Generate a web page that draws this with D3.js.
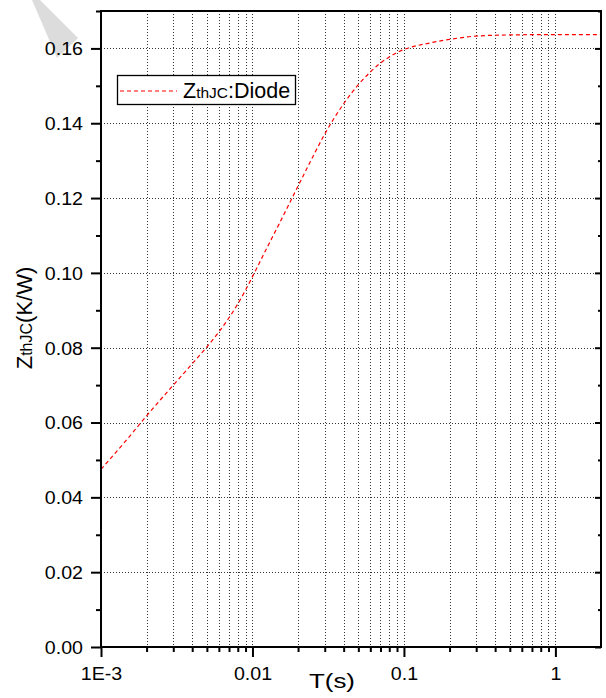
<!DOCTYPE html>
<html>
<head>
<meta charset="utf-8">
<script src="https://cdn.jsdelivr.net/npm/d3@7"></script>
<style>
  body { margin: 0; background: #fff; }
  svg { display: block; font-family: "Liberation Sans", Arial, sans-serif; }
</style>
</head>
<body>
<div id="chart"></div>
<script>
// Thermal impedance curve
const timeValues = [0.001, 0.0015, 0.002, 0.003, 0.004, 0.005, 0.006, 0.007, 0.008, 0.009,
                    0.01, 0.0125, 0.015, 0.02, 0.025, 0.03, 0.04, 0.05, 0.06, 0.07, 0.08, 0.09,
                    0.1, 0.15, 0.2, 0.3, 0.5, 1, 2];
const zthValues = [0.0475, 0.0557, 0.0618, 0.0700, 0.0757, 0.0802, 0.0842, 0.0880, 0.0917, 0.0954,
                   0.0990, 0.1068, 0.1131, 0.1232, 0.1310, 0.1371, 0.1452, 0.1503, 0.1537, 0.1561, 0.1577, 0.1589,
                   0.1597, 0.1615, 0.1624, 0.1633, 0.1636, 0.1637, 0.1637];

const xMajorTicks = [0.001, 0.01, 0.1, 1];
const xTickLabels = ["1E-3", "0.01", "0.1", "1"];
const yMajorTicks = [0, 0.02, 0.04, 0.06, 0.08, 0.10, 0.12, 0.14, 0.16];
const yTickLabels = ["0.00", "0.02", "0.04", "0.06", "0.08", "0.10", "0.12", "0.14", "0.16"];
const yMinorTicks = [0.01, 0.03, 0.05, 0.07, 0.09, 0.11, 0.13, 0.15, 0.17];
const legendLabel = ["Z", "thJC", ":Diode"];

const width = 606, height = 698;
const margin = { top: 11, right: 5, bottom: 51, left: 101 };

// minor log ticks 2..9 per decade
const xMinorTicks = [];
xMajorTicks.forEach(d => { for (let k = 2; k <= 9; k++) xMinorTicks.push(d * k); });
const xGridTicks = xMajorTicks.concat(xMinorTicks).filter(d => d <= 2);

const svg = d3.select("#chart").append("svg")
    .attr("width", width)
    .attr("height", height);

const x = d3.scaleLog().domain([0.001, 2]).range([margin.left, width - margin.right]);
const y = d3.scaleLinear().domain([0, 0.17]).range([height - margin.bottom, margin.top]);

// faint watermark stripe in the corner
svg.append("polygon")
    .attr("points", "32,0 40,0 78,38 57,58")
    .attr("fill", "#dcdcdc");

// stretch text horizontally a bit (the original labels are wide)
function stretch(sel, k) {
    sel.each(function() {
        const w = this.getComputedTextLength();
        this.setAttribute("textLength", w * k);
        this.setAttribute("lengthAdjust", "spacingAndGlyphs");
    });
}

// Grid
const grid = svg.append("g")
    .attr("stroke", "#333")
    .attr("stroke-width", 1)
    .attr("stroke-dasharray", "1,2");
grid.selectAll("line.vx")
    .data(xGridTicks.filter(d => d > 0.001 && d < 2))
    .enter().append("line")
    .attr("x1", d => Math.round(x(d)) + 0.5)
    .attr("x2", d => Math.round(x(d)) + 0.5)
    .attr("y1", y(0.17))
    .attr("y2", y(0));
grid.selectAll("line.hy")
    .data(yMajorTicks.filter(d => d > 0))
    .enter().append("line")
    .attr("x1", x(0.001))
    .attr("x2", x(2))
    .attr("y1", d => Math.round(y(d)) + 0.5)
    .attr("y2", d => Math.round(y(d)) + 0.5);

// Curve
const line = d3.line()
    .x((d, i) => x(timeValues[i]))
    .y(d => y(d))
    .curve(d3.curveMonotoneX);

svg.append("path")
    .datum(zthValues)
    .attr("d", line)
    .attr("fill", "none")
    .attr("stroke", "#ff0000")
    .attr("stroke-width", 1.2)
    .attr("stroke-dasharray", "4,3");

// Axes
const yAxis = svg.append("g")
    .attr("transform", `translate(${margin.left},0)`)
    .call(d3.axisLeft(y).tickValues(yMajorTicks).tickSize(10).tickSizeOuter(0)
        .tickFormat((d, i) => yTickLabels[i]));
svg.append("g")
    .attr("transform", `translate(${margin.left},0)`)
    .call(d3.axisLeft(y).tickValues(yMinorTicks).tickSize(5).tickSizeOuter(0).tickFormat(""));

const xAxis = svg.append("g")
    .attr("transform", `translate(0,${height - margin.bottom})`)
    .call(d3.axisBottom(x).tickValues(xMajorTicks).tickSize(10).tickSizeOuter(0)
        .tickFormat((d, i) => xTickLabels[i]));
svg.append("g")
    .attr("transform", `translate(0,${height - margin.bottom})`)
    .call(d3.axisBottom(x).tickValues(xMinorTicks.filter(d => d < 2)).tickSize(5).tickSizeOuter(0).tickFormat(""));

// right side ticks point inward
svg.append("g")
    .attr("transform", `translate(${width - margin.right},0)`)
    .call(d3.axisRight(y).tickValues(yMajorTicks).tickSize(-6).tickSizeOuter(0).tickFormat(""));
svg.append("g")
    .attr("transform", `translate(${width - margin.right},0)`)
    .call(d3.axisRight(y).tickValues(yMinorTicks).tickSize(-3).tickSizeOuter(0).tickFormat(""));

svg.selectAll(".domain").remove();
svg.selectAll(".tick line").attr("stroke", "#000").attr("stroke-width", 2);

yAxis.selectAll("text")
    .attr("x", -18)
    .attr("dy", "0.36em")
    .style("font-size", "17.5px")
    .style("font-family", "'Liberation Sans', Arial, sans-serif")
    .attr("fill", "#000")
    .call(stretch, 1.12);
xAxis.selectAll("text")
    .attr("y", 21)
    .attr("dy", "0.71em")
    .style("font-size", "17.5px")
    .style("font-family", "'Liberation Sans', Arial, sans-serif")
    .attr("fill", "#000")
    .call(stretch, 1.12);

// Frame
svg.append("rect")
    .attr("x", margin.left)
    .attr("y", margin.top)
    .attr("width", width - margin.left - margin.right)
    .attr("height", height - margin.top - margin.bottom)
    .attr("fill", "none")
    .attr("stroke", "#000")
    .attr("stroke-width", 2);

// Axis titles
const xTitle = svg.append("text")
    .attr("x", 332)
    .attr("y", 688)
    .attr("text-anchor", "middle")
    .style("font-size", "20px")
    .text("T(s)");
xTitle.attr("textLength", 46).attr("lengthAdjust", "spacingAndGlyphs");

const yTitle = svg.append("text")
    .attr("transform", "translate(31.5,318) rotate(-90)")
    .attr("text-anchor", "middle")
    .style("font-size", "22px");
yTitle.append("tspan").text("Z");
yTitle.append("tspan").style("font-size", "16px").text("thJC");
yTitle.append("tspan").text("(K/W)");

// Legend
const legend = svg.append("g");
legend.append("rect")
    .attr("x", 117.5)
    .attr("y", 75.5)
    .attr("width", 178)
    .attr("height", 29)
    .attr("fill", "#fff")
    .attr("stroke", "#000")
    .attr("stroke-width", 1.3);
legend.append("line")
    .attr("x1", 120).attr("x2", 177)
    .attr("y1", 91).attr("y2", 91)
    .attr("stroke", "#ff0000")
    .attr("stroke-width", 1.2)
    .attr("stroke-dasharray", "4,3");
const legendText = legend.append("text")
    .attr("x", 183)
    .attr("y", 98)
    .style("font-size", "21.5px");
legendText.append("tspan").text(legendLabel[0]);
legendText.append("tspan").style("font-size", "15.5px").text(legendLabel[1]);
legendText.append("tspan").text(legendLabel[2]);
</script>
</body>
</html>
